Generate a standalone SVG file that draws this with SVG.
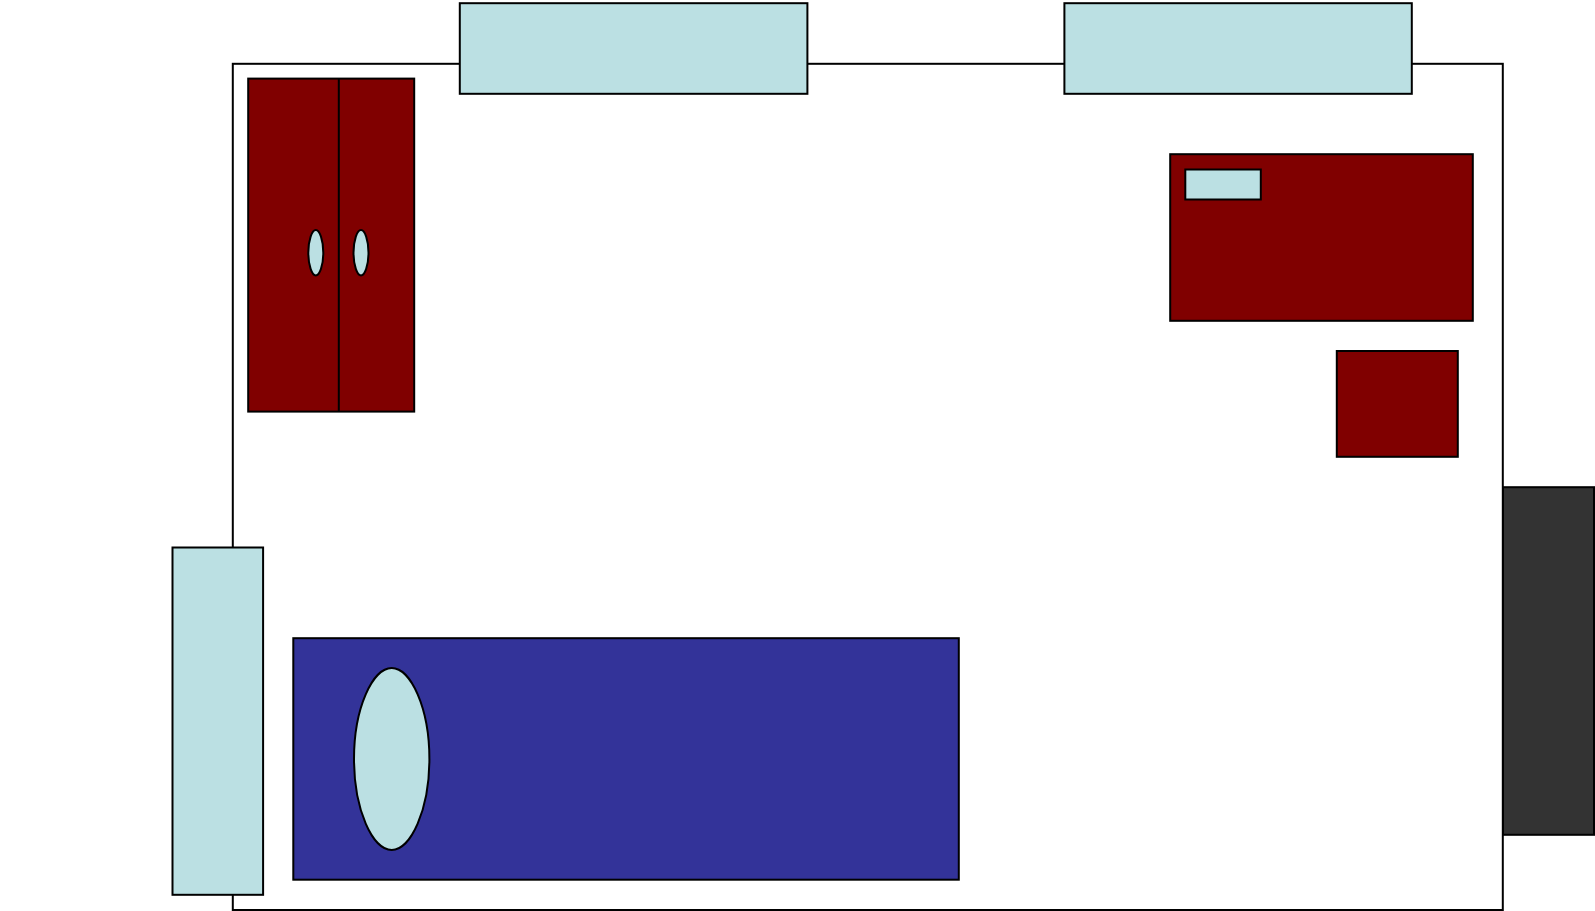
<svg xmlns="http://www.w3.org/2000/svg" width="1595" height="911" viewBox="0 0 1595 911">
<style>
.s{stroke:#000;stroke-width:2}
.glass{fill:#bbe0e3}
.wood{fill:#800000}
.blue{fill:#333399}
.dark{fill:#333333}
</style>
<rect width="1595" height="911" fill="#fff"/>
<rect id="room" class="s" x="232.8" y="63.8" width="1270" height="846.2" fill="#fff"/>
<g id="wardrobe">
<rect class="s wood" x="248.2" y="78.6" width="166" height="333"/>
<line class="s" x1="338.8" y1="78.6" x2="338.8" y2="411.6"/>
<path class="s glass" d="M315.8 230C312 230 308.3 240 308.3 252.7C308.3 265.4 312 275.4 315.8 275.4C319.6 275.4 323.3 265.4 323.3 252.7C323.3 240 319.6 230 315.8 230Z"/>
<path class="s glass" d="M361 230C357.2 230 353.5 240 353.5 252.7C353.5 265.4 357.2 275.4 361 275.4C364.8 275.4 368.5 265.4 368.5 252.7C368.5 240 364.8 230 361 230Z"/>
</g>
<rect id="window-top-left" class="s glass" x="459.8" y="3.2" width="347.6" height="90.6"/>
<rect id="window-top-right" class="s glass" x="1064.4" y="3.2" width="347.4" height="90.6"/>
<g id="desk">
<rect class="s wood" x="1170.2" y="154.2" width="302.6" height="166.6"/>
<rect class="s glass" x="1185.3" y="169.5" width="75.5" height="30"/>
</g>
<rect id="stool" class="s wood" x="1336.8" y="351" width="121" height="105.8"/>
<rect id="door" class="s dark" x="1503" y="487.2" width="91" height="347.6"/>
<rect id="window-left" class="s glass" x="172.5" y="547.5" width="90.6" height="347.3"/>
<g id="bed">
<rect class="s blue" x="293.3" y="638.2" width="665.5" height="241.5"/>
<path class="s glass" d="M391.7 668C372.7 668 354 708 354 759C354 810 372.7 850 391.7 850C410.7 850 429.4 810 429.4 759C429.4 708 410.7 668 391.7 668Z"/>
</g>
</svg>
